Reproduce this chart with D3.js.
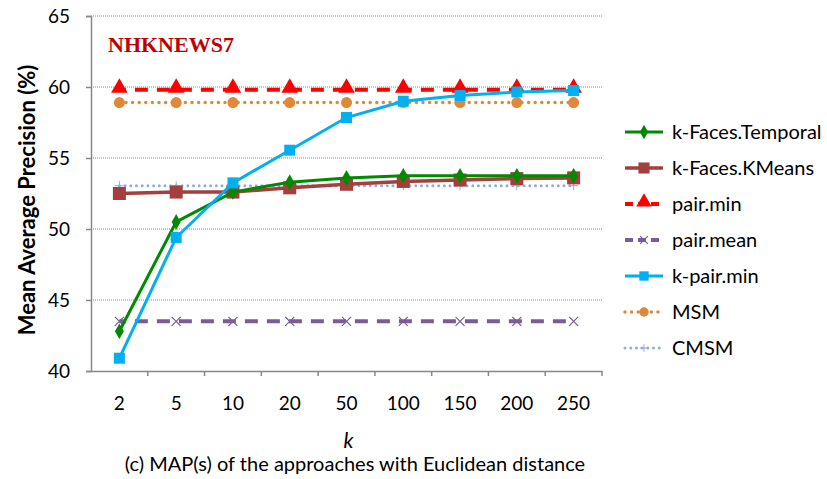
<!DOCTYPE html>
<html>
<head>
<meta charset="utf-8">
<script src="https://cdn.jsdelivr.net/npm/d3@7"></script>
<style>
  body { margin: 0; background: #fff; }
</style>
</head>
<body>
<script>
// data
const categories = ["2", "5", "10", "20", "50", "100", "150", "200", "250"];
const yTicks = [40, 45, 50, 55, 60, 65];
const kFacesTemporal = [42.8, 50.5, 52.6, 53.3, 53.6, 53.75, 53.75, 53.75, 53.75];
const kFacesKMeans = [52.5, 52.6, 52.6, 52.9, 53.15, 53.35, 53.45, 53.55, 53.6];
const pairMin = [59.8, 59.8, 59.8, 59.8, 59.8, 59.8, 59.8, 59.8, 59.8];
const pairMean = [43.5, 43.5, 43.5, 43.5, 43.5, 43.5, 43.5, 43.5, 43.5];
const kPairMin = [40.9, 49.4, 53.25, 55.55, 57.85, 59.0, 59.4, 59.65, 59.75];
const msm = [58.9, 58.9, 58.9, 58.9, 58.9, 58.9, 58.9, 58.9, 58.9];
const cmsm = [53.05, 53.05, 53.05, 53.05, 53.05, 53.05, 53.05, 53.05, 53.05];

const width = 827, height = 479;
const margin = {top: 16, right: 225, bottom: 108, left: 91};
const font = "Lato, 'Open Sans', sans-serif";

const series = [
  {name: "k-Faces.Temporal", values: kFacesTemporal, color: "#008a00", dash: null, width: 3, marker: "diamond"},
  {name: "k-Faces.KMeans", values: kFacesKMeans, color: "#a3403d", dash: null, width: 3.5, marker: "square"},
  {name: "pair.min", values: pairMin, color: "#ff0000", dash: "13,9", offset: 6.5, width: 4, marker: "triangle"},
  {name: "pair.mean", values: pairMean, color: "#7a5c98", dash: "13,9", offset: 6.5, width: 4, marker: "x"},
  {name: "k-pair.min", values: kPairMin, color: "#00b0f0", dash: null, width: 3, marker: "bluesq"},
  {name: "MSM", values: msm, color: "#e0883a", dash: "0,6.6", width: 3.5, dots: true, marker: "circle"},
  {name: "CMSM", values: cmsm, color: "#92acd8", dash: "0,5.7", width: 3, dots: true, marker: "plus"}
];

const x = d3.scaleBand().domain(categories).range([margin.left, width - margin.right]);
const y = d3.scaleLinear().domain([40, 65]).range([height - margin.bottom, margin.top]);

const svg = d3.select("body").append("svg")
  .attr("width", width).attr("height", height)
  .style("font-family", font);

// gridlines
svg.append("g").selectAll("line").data(yTicks.filter(d => d > 40)).join("line")
  .attr("x1", margin.left).attr("x2", width - margin.right)
  .attr("y1", d => y(d)).attr("y2", d => y(d))
  .attr("stroke", "#8c8c8c").attr("stroke-width", 1).attr("stroke-dasharray", "1,1");

// axes
const yAxis = d3.axisLeft(y).tickValues(yTicks).tickSize(5).tickPadding(6);
svg.append("g").attr("transform", `translate(${margin.left},0)`).call(yAxis)
  .call(g => g.selectAll(".domain, .tick line").attr("stroke", "#888").attr("stroke-width", 1.5))
  .call(g => g.selectAll(".tick text").attr("font-family", font).attr("font-size", "19px").attr("fill", "#000").attr("dx", "-10"));

const xAxis = d3.axisBottom(x).tickSize(0).tickPadding(26);
const xg = svg.append("g").attr("transform", `translate(0,${height - margin.bottom})`).call(xAxis)
  .call(g => g.select(".domain").attr("stroke", "#888").attr("stroke-width", 1.5))
  .call(g => g.selectAll(".tick text").attr("font-family", font).attr("font-size", "19px").attr("fill", "#000"));
xg.append("g").selectAll("line").data(categories.slice(1).concat(["end"])).join("line")
  .attr("x1", d => d === "end" ? x.range()[1] : x(d)).attr("x2", d => d === "end" ? x.range()[1] : x(d))
  .attr("y1", 0).attr("y2", 5).attr("stroke", "#888").attr("stroke-width", 1.5);

// marker drawing
function drawMarker(g, type, color, cx, cy, scale = 1) {
  const s = scale;
  if (type === "diamond") {
    g.append("path").attr("d", d3.symbol(d3.symbolDiamond, 70 * s)()).attr("transform", `translate(${cx},${cy})`).attr("fill", color);
  } else if (type === "square") {
    g.append("rect").attr("x", cx - 6.5 * s).attr("y", cy - 6.5 * s).attr("width", 13 * s).attr("height", 13 * s).attr("fill", color);
  } else if (type === "bluesq") {
    g.append("rect").attr("x", cx - 5.5 * s).attr("y", cy - 5.5 * s).attr("width", 11 * s).attr("height", 11 * s).attr("fill", color);
  } else if (type === "triangle") {
    g.append("path").attr("d", d3.symbol(d3.symbolTriangle, 120 * s)()).attr("transform", `translate(${cx},${cy - 2})`).attr("fill", color);
  } else if (type === "circle") {
    g.append("circle").attr("cx", cx).attr("cy", cy).attr("r", 5.5 * s).attr("fill", color);
  } else if (type === "x") {
    const r = 4.5 * s;
    g.append("path").attr("d", `M${cx - r},${cy - r}L${cx + r},${cy + r}M${cx - r},${cy + r}L${cx + r},${cy - r}`)
      .attr("stroke", color).attr("stroke-width", 1.2).attr("fill", "none");
  } else if (type === "plus") {
    const r = 4.5 * s;
    g.append("path").attr("d", `M${cx - r},${cy}L${cx + r},${cy}M${cx},${cy - r}L${cx},${cy + r}`)
      .attr("stroke", color).attr("stroke-width", 1).attr("fill", "none");
  }
}

const line = d3.line().x((d, i) => x(categories[i]) + x.bandwidth() / 2).y(d => y(d));

// draw in order so k-pair.min sits on top like the reference
const drawOrder = ["CMSM", "pair.mean", "MSM", "pair.min", "k-Faces.KMeans", "k-Faces.Temporal", "k-pair.min"];
drawOrder.forEach(name => {
  const s = series.find(d => d.name === name);
  const g = svg.append("g");
  g.append("path").datum(s.values).attr("d", line).attr("fill", "none")
    .attr("stroke", s.color).attr("stroke-width", s.width)
    .attr("stroke-dasharray", s.dash).attr("stroke-dashoffset", s.offset || 0)
    .attr("stroke-linecap", s.dots ? "round" : "butt");
  s.values.forEach((v, i) => drawMarker(g, s.marker, s.color, x(categories[i]) + x.bandwidth() / 2, y(v)));
});

// watermark text
svg.append("text").attr("x", 108).attr("y", 52)
  .attr("font-family", "'Liberation Serif', serif").attr("font-weight", "bold").attr("font-size", "22px")
  .attr("fill", "#c00000").text("NHKNEWS7");

// legend
const legend = svg.append("g").attr("transform", "translate(625,132)");
series.forEach((s, i) => {
  const g = legend.append("g").attr("transform", `translate(0,${i * 36})`);
  g.append("line").attr("x1", 0).attr("x2", 38).attr("y1", 0).attr("y2", 0)
    .attr("stroke", s.color).attr("stroke-width", s.width)
    .attr("stroke-dasharray", s.dash ? (s.dots ? s.dash : "8,5") : null)
    .attr("stroke-linecap", s.dots ? "round" : "butt");
  drawMarker(g, s.marker, s.color, 19, 0, 0.85);
  g.append("text").attr("x", 47).attr("y", 0).attr("dy", "0.35em")
    .attr("font-size", "20px").attr("fill", "#000").text(s.name);
});

// axis titles
svg.append("text").attr("transform", "rotate(-90)").attr("x", -200).attr("y", 35)
  .attr("text-anchor", "middle").attr("font-size", "22px").attr("font-weight", "bold").text("Mean Average Precision (%)");
svg.append("text").attr("x", (margin.left + width - margin.right) / 2 + 2).attr("y", 448)
  .attr("text-anchor", "middle").attr("font-size", "21px").attr("font-style", "italic").text("k");
svg.append("text").attr("x", 355).attr("y", 471)
  .attr("text-anchor", "middle").attr("font-size", "20px").text("(c) MAP(s) of the approaches with Euclidean distance");
</script>
</body>
</html>
